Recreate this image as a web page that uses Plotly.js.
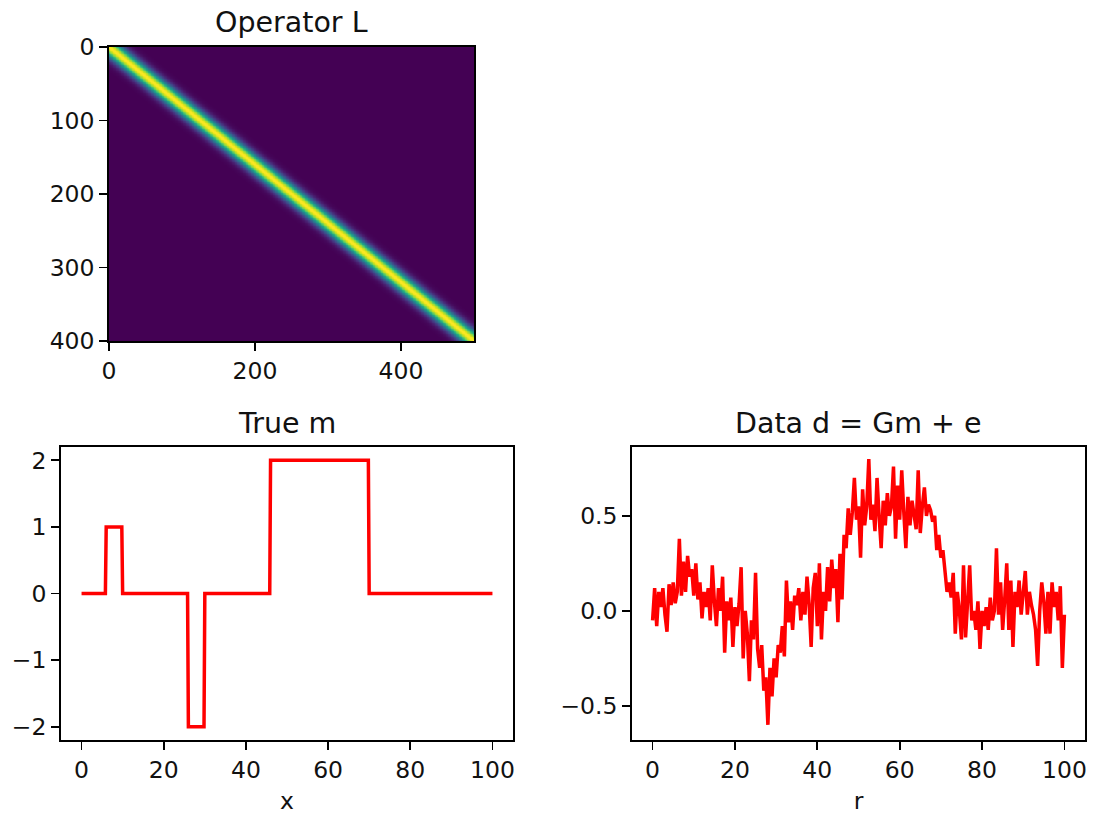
<!DOCTYPE html>
<html>
<head>
<meta charset="utf-8">
<script src="https://cdn.plot.ly/plotly-3.0.1.min.js"></script>
<style>html,body{margin:0;padding:0;background:#fff;}#chart{width:1096px;height:815px;}</style>
</head>
<body>
<div id="chart"></div>
<script>
// ---- Operator L: size and band profile (value vs. column offset from the diagonal) ----
const opRows = 400;
const opCols = 500;
const bandOffsets = [0, 2, 4, 6, 8, 10, 12, 14, 16, 18, 20, 22, 24, 26, 28, 30, 32, 34, 36, 38, 40, 42];
const bandProfile = [1.0, 0.986, 0.946, 0.882, 0.801, 0.707, 0.607, 0.506, 0.411, 0.325,
                     0.249, 0.186, 0.135, 0.096, 0.066, 0.044, 0.029, 0.018, 0.011, 0.007, 0.004, 0.0];

// ---- True m (step model) ----
const mX = [0, 5.8, 6.0, 9.8, 10.0, 25.8, 26.0, 29.8, 30.0, 45.8, 46.0, 69.8, 70.0, 100];
const mY = [0, 0, 1, 1, 0, 0, -2, -2, 0, 0, 2, 2, 0, 0];

// ---- Data d = Gm + e (evenly spaced over r = 0..100) ----
const dValues = [
  -0.05,0.12,-0.08,0.10,0.02,0.12,-0.02,-0.11,0.14,0.03,0.15,0.04,0.10,0.38,0.08,0.26,0.10,0.29,0.18,0.22,
  0.08,0.25,0.06,0.15,-0.04,0.10,0.02,0.12,-0.05,0.24,0.05,-0.08,0.12,0.00,0.18,-0.22,0.05,-0.05,0.07,-0.19,
  0.02,-0.08,0.04,0.23,-0.25,0.0,-0.12,-0.37,-0.05,-0.15,0.20,-0.20,-0.30,-0.18,-0.42,-0.35,-0.60,-0.30,-0.45,-0.25,
  -0.35,-0.18,-0.22,-0.08,-0.24,0.16,-0.06,0.05,-0.10,0.08,0.03,0.12,-0.05,0.10,-0.02,0.18,0.04,-0.19,0.12,0.20,
  -0.08,0.25,-0.15,0.10,0.0,0.23,0.05,0.27,0.12,0.22,-0.06,0.30,0.06,0.40,0.33,0.54,0.40,0.52,0.70,0.48,
  0.55,0.28,0.64,0.45,0.55,0.80,0.48,0.56,0.42,0.70,0.50,0.33,0.58,0.45,0.62,0.50,0.55,0.76,0.38,0.66,
  0.48,0.74,0.52,0.33,0.60,0.45,0.58,0.50,0.43,0.74,0.41,0.55,0.65,0.50,0.56,0.53,0.47,0.50,0.32,0.40,
  0.28,0.32,0.21,0.10,0.15,0.07,0.20,-0.12,0.10,0.0,-0.15,0.24,-0.14,0.02,0.24,-0.05,0.0,-0.10,0.05,-0.20,
  0.0,-0.08,0.02,-0.10,0.07,-0.05,0.00,0.33,-0.02,0.15,-0.10,0.06,0.25,-0.10,0.16,-0.19,0.10,0.02,0.16,-0.02,
  0.08,0.21,-0.02,0.10,0.03,-0.02,-0.10,-0.29,0.0,0.15,0.05,-0.12,0.10,-0.12,0.15,0.02,0.10,-0.05,0.13,-0.30,-0.02
];
const rStart = 0, rEnd = 100;

// ---- Titles / tick labels ----
const titles = ["Operator L", "True m", "Data d = Gm + e"];
const xLabelM = "x", xLabelD = "r";
const opXTicks = [0, 200, 400];
const opYTicks = [0, 100, 200, 300, 400];
const mXTicks = [0, 20, 40, 60, 80, 100];
const mYTicks = [-2, -1, 0, 1, 2];
const dYTicks = [-0.5, 0.0, 0.5];

// build operator matrix from the band profile (linear interpolation over offsets)
function profileAt(d) {
  if (d >= bandOffsets[bandOffsets.length - 1]) return 0;
  let k = 0;
  while (bandOffsets[k + 1] <= d) k++;
  const f = (d - bandOffsets[k]) / (bandOffsets[k + 1] - bandOffsets[k]);
  return bandProfile[k] * (1 - f) + bandProfile[k + 1] * f;
}
const slope = opCols / opRows;
const z = [];
for (let i = 0; i < opRows; i++) {
  const row = new Array(opCols);
  const c = slope * (i + 0.5);
  for (let j = 0; j < opCols; j++) row[j] = profileAt(Math.abs(j + 0.5 - c));
  z.push(row);
}
const rVals = dValues.map((_, i) => rStart + (rEnd - rStart) * i / (dValues.length - 1));

const FONT = "DejaVu Sans, sans-serif";
const W = 1096, H = 815;
const px = v => v / W, py = v => 1 - v / H;

const axBase = {
  showline: true, mirror: true, linecolor: "#000", linewidth: 1.8,
  ticks: "outside", ticklen: 8, tickwidth: 1.8, tickcolor: "#000",
  showgrid: false, zeroline: false,
  tickfont: {family: FONT, size: 23.5, color: "#111"},
  fixedrange: true
};

const traces = [
  {type: "heatmap", z: z, x0: 0.5, dx: 1, y0: 0.5, dy: 1, colorscale: "Viridis",
   zmin: 0, zmax: 1, showscale: false, xaxis: "x", yaxis: "y", hoverinfo: "skip"},
  {type: "scatter", mode: "lines", x: mX, y: mY, line: {color: "#ff0000", width: 3.5},
   xaxis: "x2", yaxis: "y2", hoverinfo: "skip"},
  {type: "scatter", mode: "lines", x: rVals, y: dValues, line: {color: "#ff0000", width: 3.5},
   xaxis: "x3", yaxis: "y3", hoverinfo: "skip"}
];

const layout = {
  width: W, height: H, autosize: false,
  margin: {l: 0, r: 0, t: 0, b: 0},
  paper_bgcolor: "#fff", plot_bgcolor: "#fff",
  showlegend: false,
  font: {family: FONT, color: "#111"},
  xaxis: Object.assign({}, axBase, {domain: [px(109), px(474)], range: [-0.01, opCols + 0.01],
    tickvals: opXTicks, anchor: "y"}),
  yaxis: Object.assign({}, axBase, {domain: [py(341), py(47)], range: [opRows + 0.01, -0.01],
    tickvals: opYTicks, anchor: "x"}),
  xaxis2: Object.assign({}, axBase, {domain: [px(61), px(513)], range: [-5, 105],
    tickvals: mXTicks, anchor: "y2",
    title: {text: xLabelM, font: {family: FONT, size: 23.5, color: "#111"}, standoff: 11}}),
  yaxis2: Object.assign({}, axBase, {domain: [py(740), py(447)], range: [-2.2, 2.2],
    tickvals: mYTicks, anchor: "x2"}),
  xaxis3: Object.assign({}, axBase, {domain: [px(632), px(1085)], range: [-5, 105],
    tickvals: mXTicks, anchor: "y3",
    title: {text: xLabelD, font: {family: FONT, size: 23.5, color: "#111"}, standoff: 11}}),
  yaxis3: Object.assign({}, axBase, {domain: [py(740), py(447)], range: [-0.68, 0.863],
    tickvals: dYTicks, tickformat: ".1f", anchor: "x3"}),
  annotations: [
    {text: titles[0], xref: "paper", yref: "paper", x: px(291.5), y: py(23), xanchor: "center", yanchor: "middle",
     showarrow: false, font: {family: FONT, size: 28.5, color: "#111"}},
    {text: titles[1], xref: "paper", yref: "paper", x: px(287), y: py(423), xanchor: "center", yanchor: "middle",
     showarrow: false, font: {family: FONT, size: 28.5, color: "#111"}},
    {text: titles[2], xref: "paper", yref: "paper", x: px(858.5), y: py(423), xanchor: "center", yanchor: "middle",
     showarrow: false, font: {family: FONT, size: 28.5, color: "#111"}}
  ]
};

Plotly.newPlot("chart", traces, layout, {staticPlot: true, displayModeBar: false});
</script>
</body>
</html>
